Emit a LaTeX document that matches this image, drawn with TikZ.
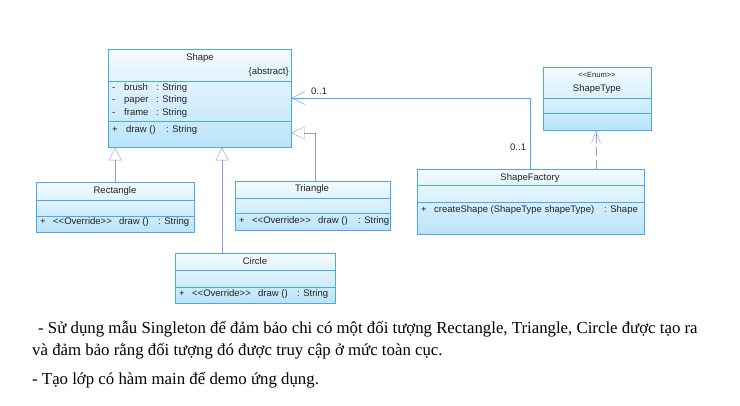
\documentclass[tikz,border=0pt]{standalone}
\usepackage{fontspec}
\setmainfont{Liberation Serif}
\setsansfont{Liberation Sans}
\usepackage{tikz}
\usetikzlibrary{arrows.meta}
\definecolor{umlline}{RGB}{77,166,240}
\definecolor{umltop}{RGB}{244,251,255}
\definecolor{umlbottom}{RGB}{186,228,250}
\definecolor{umlgen}{RGB}{150,150,245}
\definecolor{umltext}{RGB}{35,35,35}
\tikzset{
  class/.style = {draw = umlline, top color = umltop, bottom color = umlbottom,
    anchor = north west, inner sep = 0pt},
  title/.style = {font = \sffamily\fontsize{9.5}{10}\selectfont, text = umltext,
    inner sep = 0pt, text height = 7pt, text depth = 2pt},
  member/.style = {title, anchor = west},
  note/.style = {font = \rmfamily\fontsize{16.8}{18}\selectfont, anchor = west,
    inner sep = 0pt, text height = 12pt, text depth = 4pt},
  gen/.style = {draw = umlgen, -{Triangle[open, length = 13pt, width = 13pt]}},
  assoc/.style = {draw = umlline, -{Straight Barb[length = 13pt, width = 13pt]}},
  depend/.style = {draw = umlgen, dash pattern = on 9pt off 4pt,
    -{Straight Barb[length = 12pt, width = 9pt]}}
}
\newcommand{\ovr}{<\kern0pt<Override>\kern0pt>}

\begin{document}
\begin{tikzpicture}[x = 1pt, y = -1pt]
    \useasboundingbox [fill = white] (0,0) rectangle (740,406);
    % classes
    \node [class, minimum width = 183pt, minimum height = 98pt] (shape) at (108,49) {};
    \node [class, minimum width = 158pt, minimum height = 50pt] (rect) at (36,182) {};
    \node [class, minimum width = 155pt, minimum height = 49pt] (tri) at (235,181) {};
    \node [class, minimum width = 160pt, minimum height = 50pt] (circ) at (175,253) {};
    \node [class, minimum width = 108pt, minimum height = 63pt] (stype) at (543,67) {};
    \node [class, minimum width = 227pt, minimum height = 65pt] (factory) at (417,169) {};
    % compartments
    \draw [umlline] (108,81) -- (291,81) (108,121) -- (291,121);
    \draw [umlline] (36,200) -- (194,200) (36,216) -- (194,216);
    \draw [umlline] (235,198) -- (390,198) (235,213) -- (390,213);
    \draw [umlline] (175,270) -- (335,270) (175,287) -- (335,287);
    \draw [umlline] (543,98) -- (651,98) (543,113) -- (651,113);
    \draw [umlline] (417,185) -- (644,185) (417,202) -- (644,202);
    % Shape
    \node [title] (shapeName) at (200,58) {Shape};
    \node [title, anchor = east] (shapeAbs) at (289,72) {\{abstract\}};
    \node [member] (shapeV1) at (112,88) {-};
    \node [member] (shapeA1) at (124,88) {brush};
    \node [member] (shapeT1) at (156,88) {: String};
    \node [member] (shapeV2) at (112,100) {-};
    \node [member] (shapeA2) at (124,100) {paper};
    \node [member] (shapeT2) at (156,100) {: String};
    \node [member] (shapeV3) at (112,113) {-};
    \node [member] (shapeA3) at (124,113) {frame};
    \node [member] (shapeT3) at (156,113) {: String};
    \node [member] (shapeV4) at (112,130) {+};
    \node [member] (shapeM1) at (126,130) {draw ()};
    \node [member] (shapeT4) at (166,130) {: String};
    % Rectangle
    \node [title] (rectName) at (115,191) {Rectangle};
    \node [member] (rectV) at (40,222) {+};
    \node [member] (rectO) at (53,222) {\ovr};
    \node [member] (rectM) at (119,222) {draw ()};
    \node [member] (rectT) at (158,222) {: String};
    % Triangle
    \node [title] (triName) at (312,189) {Triangle};
    \node [member] (triV) at (239,221) {+};
    \node [member] (triO) at (252,221) {\ovr};
    \node [member] (triM) at (318,221) {draw ()};
    \node [member] (triT) at (358,221) {: String};
    % Circle
    \node [title] (circName) at (255,262) {Circle};
    \node [member] (circV) at (179,294) {+};
    \node [member] (circO) at (192,294) {\ovr};
    \node [member] (circM) at (258,294) {draw ()};
    \node [member] (circT) at (297,294) {: String};
    % ShapeType
    \node [title, font = \sffamily\fontsize{7.5}{8}\selectfont] (stypeSt) at (597,75) {<\kern0pt<Enum>\kern0pt>};
    \node [title] (stypeName) at (597,89) {ShapeType};
    % ShapeFactory
    \node [title] (factName) at (530,178) {ShapeFactory};
    \node [member] (factV) at (421,210) {+};
    \node [member] (factM) at (434,210) {createShape (ShapeType shapeType)};
    \node [member] (factT) at (604,210) {: Shape};
    % paths
    \coordinate (circTop) at (222,253);
    \coordinate (triTop) at (315,181);
    \coordinate (factTop) at (530,169);
    \coordinate (depStart) at (596,169);
    \draw [gen] (rect.north) -- (rect.north |- shape.south);
    \draw [gen] (circTop) -- (circTop |- shape.south);
    \draw [gen] (triTop) |- (shape.east |- 0,133);
    \draw [assoc] (factTop) |- (shape.east |- 0,98);
    \draw [depend] (depStart) -- (depStart |- stype.south);
    \node [member] (multShape) at (311,92) {0..1};
    \node [member] (multFact) at (510,148) {0..1};
    % notes
    \node [note] (noteA) at (38,330) {- Sử dụng mẫu Singleton để đảm bảo chi có một đối tượng Rectangle, Triangle, Circle được tạo ra};
    \node [note] (noteB) at (32,352) {và đảm bảo rằng đối tượng đó được truy cập ở mức toàn cục.};
    \node [note] (noteC) at (32,381) {- Tạo lớp có hàm main để demo ứng dụng.};
\end{tikzpicture}
\end{document}
